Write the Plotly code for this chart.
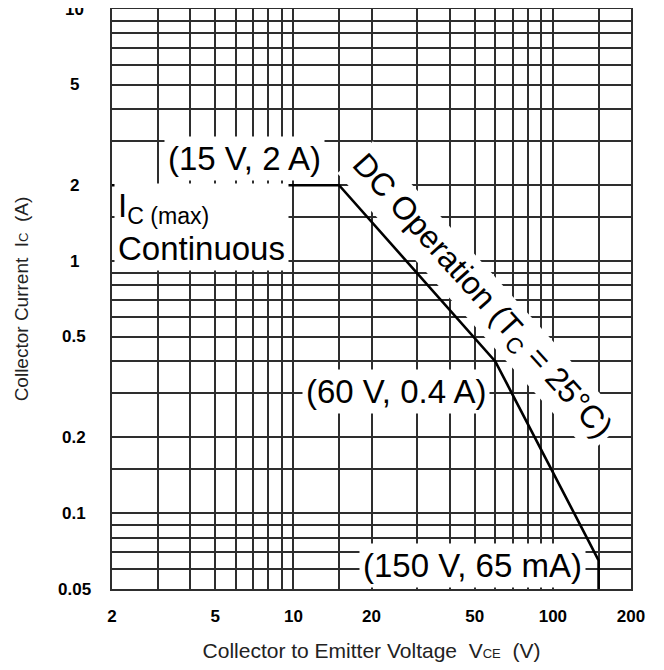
import numpy as np
import plotly.graph_objects as go

# ---- data ----
soa_v = [2, 15, 60, 150, 150]          # Collector-emitter voltage (V)
soa_i = [2, 2, 0.4, 0.065, 0.05]       # Collector current (A)

x_grid = [2, 3, 4, 5, 6, 7, 8, 9, 10, 15, 20, 30, 40, 50, 60, 70, 80, 90, 100, 150, 200]
x_ticks = [2, 5, 10, 20, 50, 100, 200]
x_tick_text = ["2", "5", "10", "20", "50", "100", "200"]
y_grid = [0.05, 0.06, 0.07, 0.08, 0.09, 0.1, 0.15, 0.2, 0.3, 0.4, 0.5, 0.6, 0.7, 0.8, 0.9,
          1, 1.5, 2, 3, 4, 5, 6, 7, 8, 9, 10]
y_ticks = [0.05, 0.1, 0.2, 0.5, 1, 2, 5, 10]
y_tick_text = ["0.05", "0.1", "0.2", "0.5", "1", "2", "5", "10"]

FONT = "Liberation Sans, Arial, sans-serif"
TICKFONT = "Liberation Sans Narrow, Arial Narrow, Liberation Sans, sans-serif"
GRID = "#2e2e2e"

fig = go.Figure()
fig.add_trace(go.Scatter(x=soa_v, y=soa_i, mode="lines",
                         line=dict(color="black", width=2.6), showlegend=False,
                         hoverinfo="skip"))

# page body has an 8px default margin: size/margins compensate for it
fig.update_layout(
    width=656, height=662,
    margin=dict(l=104, r=33, t=1, b=81),
    paper_bgcolor="white", plot_bgcolor="white",
    font=dict(family=FONT, color="black"),
    showlegend=False,
)

grid_style = dict(showgrid=True, gridcolor=GRID, gridwidth=1.6)

fig.update_xaxes(
    type="log", range=[np.log10(2), np.log10(200)], automargin=False,
    tickmode="array", tickvals=x_ticks,
    ticktext=["<b>%s</b>" % t for t in x_tick_text],
    tickfont=dict(size=17, family=TICKFONT, color="black"),
    ticks="", ticklabelstandoff=11,
    minor=dict(tickmode="array", tickvals=x_grid, ticks="", **grid_style),
    showline=True, linecolor=GRID, linewidth=2, mirror=True,
    zeroline=False, **grid_style,
    title=dict(text="Collector to Emitter Voltage  V<span style='font-size:13px'>CE</span>  (V)",
               font=dict(size=21, family=FONT, color="#222"), standoff=18),
)
fig.update_yaxes(
    type="log", range=[np.log10(0.05), np.log10(10)], automargin=False,
    tickmode="array", tickvals=y_ticks, showticklabels=False,
    ticks="",
    minor=dict(tickmode="array", tickvals=y_grid, ticks="", **grid_style),
    showline=True, linecolor=GRID, linewidth=2, mirror=True,
    zeroline=False, **grid_style,
    title=dict(text="Collector Current  I<span style='font-size:13px'>C</span>  (A)",
               font=dict(size=19, family=FONT, color="#222"), standoff=76),
)

# y tick labels, centred in the label column
for v, t in zip(y_ticks, y_tick_text):
    fig.add_annotation(x=0, xref="paper", y=np.log10(v), yref="y",
                       text="<b>%s</b>" % t, showarrow=False,
                       xanchor="center", yanchor="middle", xshift=-38,
                       font=dict(size=17, family=TICKFONT, color="black"))

def ann(x, y, text, size, **kw):
    fig.add_annotation(x=np.log10(x), y=np.log10(y), xref="x", yref="y",
                       text=text, showarrow=False, bgcolor="white", borderpad=3,
                       font=dict(size=size, family=FONT, color="black"), **kw)

ann(6.5, 2.56, "(15 V, 2 A)", 33)
ann(2, 1.36, "I<sub>C (max)</sub><br>Continuous", 33, xanchor="left", align="left", xshift=2)
ann(24.9, 0.303, "(60 V, 0.4 A)", 33)
ann(48.9, 0.0617, "(150 V, 65 mA)", 33)
ann(52.5, 0.69, "DC Operation (T<sub>C</sub> = 25°C)", 32, textangle=48, xshift=1, yshift=4)

fig.write_html("out.html")
